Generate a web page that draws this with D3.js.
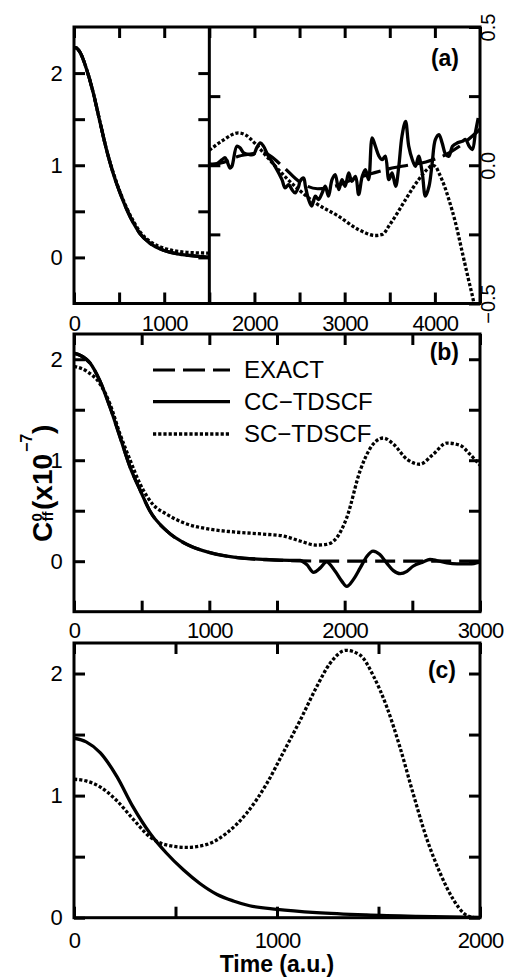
<!DOCTYPE html>
<html><head><meta charset="utf-8">
<script src="https://cdn.jsdelivr.net/npm/d3@7"></script>
<style>
body{margin:0;background:#fff}
text{font-family:"Liberation Sans",Arial,Helvetica,sans-serif;fill:#000}
</style>
</head><body>
<svg id="chart" width="505" height="977"></svg>
<script>
// ---------- DATA ----------
// Panel (a), left sub-panel (t = 0..1500, left scale)
const aLT  = [0, 30, 70, 140, 215, 290, 360, 435, 510, 585, 660, 730, 840, 1000, 1200, 1350, 1500];
const aLEX = [2.28, 2.27, 2.22, 2.04, 1.78, 1.46, 1.17, 0.91, 0.70, 0.52, 0.37, 0.26, 0.155, 0.075, 0.03, 0.015, 0.0];
const aLCC = [2.28, 2.27, 2.22, 2.04, 1.78, 1.46, 1.17, 0.91, 0.70, 0.52, 0.37, 0.26, 0.155, 0.075, 0.03, 0.015, 0.005];
const aLSC = [2.28, 2.27, 2.22, 2.04, 1.78, 1.46, 1.17, 0.92, 0.71, 0.535, 0.39, 0.28, 0.175, 0.10, 0.06, 0.05, 0.047];
// Panel (a), right sub-panel (t = 1500..4500, right scale)
const aREXT = [1500, 1700, 1800, 1950, 2100, 2300, 2500, 2700, 2900, 3100, 3300, 3500, 3700, 3900, 4100, 4300, 4500];
const aREX  = [0.0, 0.015, 0.03, 0.04, 0.045, 0.0, -0.06, -0.085, -0.075, -0.05, -0.03, -0.012, 0.0, 0.012, 0.035, 0.075, 0.13];
const aRCCT = [1500, 1580, 1640, 1675, 1730, 1750, 1805, 1840, 1880, 1935, 1990, 2025, 2065, 2100, 2155, 2230, 2305, 2340, 2380, 2415, 2450, 2490, 2505, 2545, 2565, 2600, 2635, 2675, 2710, 2750, 2785, 2820, 2860, 2895, 2935, 2970, 3005, 3045, 3080, 3120, 3155, 3195, 3230, 3265, 3305, 3340, 3380, 3415, 3450, 3490, 3525, 3565, 3600, 3635, 3675, 3710, 3750, 3785, 3820, 3860, 3895, 3935, 3970, 4005, 4045, 4080, 4120, 4155, 4195, 4250, 4305, 4340, 4380, 4415, 4450, 4480];
const aRCC  = [0.005, 0.005, 0.02, 0.027, -0.01, -0.004, 0.069, 0.063, 0.045, 0.039, 0.039, 0.063, 0.081, 0.069, 0.033, -0.005, -0.052, -0.082, -0.07, -0.088, -0.1, -0.076, -0.058, -0.046, -0.076, -0.124, -0.148, -0.112, -0.124, -0.1, -0.076, -0.112, -0.052, -0.034, -0.088, -0.052, -0.076, -0.028, -0.058, -0.04, -0.106, -0.04, -0.016, -0.052, 0.099, 0.069, 0.033, 0.02, 0.033, -0.052, -0.028, -0.076, -0.004, 0.105, 0.159, 0.069, 0.02, -0.004, 0.033, -0.028, -0.112, -0.076, 0.008, 0.093, 0.111, 0.081, 0.039, 0.033, 0.069, 0.081, 0.087, 0.093, 0.069, 0.057, 0.12, 0.171];
const aRSCT = [1500, 1650, 1820, 1900, 2000, 2100, 2200, 2350, 2490, 2675, 2930, 3155, 3340, 3420, 3490, 3580, 3675, 3820, 3930, 3970, 4010, 4045, 4100, 4155, 4230, 4305, 4370, 4433, 4460];
const aRSC  = [0.054, 0.09, 0.117, 0.11, 0.081, 0.045, 0.008, -0.045, -0.088, -0.136, -0.184, -0.233, -0.254, -0.25, -0.22, -0.175, -0.124, -0.052, -0.01, 0.0, -0.005, -0.028, -0.07, -0.124, -0.21, -0.317, -0.41, -0.5, -0.55];

// Panel (b)
const bEXT = [0, 45, 120, 190, 265, 340, 415, 490, 560, 685, 835, 1010, 1180, 1420, 1600, 2000, 2500, 3000];
const bEX  = [2.06, 2.04, 1.96, 1.79, 1.53, 1.23, 0.93, 0.70, 0.50, 0.30, 0.166, 0.083, 0.04, 0.015, 0.006, 0.0, 0.0, 0.0];
const bCCT = [0, 45, 120, 190, 265, 340, 415, 490, 560, 685, 835, 1010, 1180, 1420, 1520, 1670, 1720, 1770, 1820, 1865, 1930, 1980, 2015, 2065, 2115, 2165, 2210, 2260, 2310, 2360, 2410, 2460, 2505, 2580, 2630, 2680, 2755, 2830, 2925, 3000];
const bCC  = [2.06, 2.04, 1.96, 1.79, 1.53, 1.23, 0.93, 0.70, 0.50, 0.30, 0.166, 0.083, 0.04, 0.017, 0.01, 0.007, -0.033, -0.11, -0.066, -0.007, -0.1, -0.2, -0.25, -0.18, -0.066, 0.05, 0.1, 0.066, -0.017, -0.093, -0.123, -0.1, -0.05, -0.007, 0.017, 0.007, -0.017, -0.027, -0.027, -0.007];
const bSCT = [0, 95, 190, 265, 340, 415, 490, 585, 685, 810, 1010, 1180, 1420, 1545, 1670, 1790, 1865, 1940, 2015, 2115, 2185, 2285, 2360, 2460, 2555, 2655, 2755, 2850, 2925, 3000];
const bSC  = [1.93, 1.88, 1.76, 1.56, 1.26, 1.0, 0.76, 0.56, 0.465, 0.38, 0.316, 0.29, 0.266, 0.25, 0.2, 0.16, 0.166, 0.23, 0.43, 0.9, 1.11, 1.22, 1.16, 1.01, 0.96, 1.06, 1.17, 1.15, 1.06, 0.95];

// Panel (c)
const cCCT = [0, 60, 130, 210, 290, 375, 455, 540, 620, 705, 785, 865, 1000, 1195, 1440, 1690, 2000];
const cCC  = [1.47, 1.44, 1.35, 1.16, 0.91, 0.69, 0.53, 0.39, 0.28, 0.19, 0.137, 0.098, 0.068, 0.041, 0.022, 0.011, 0.003];
const cSCT = [0, 60, 130, 210, 290, 375, 455, 555, 655, 750, 850, 950, 1030, 1115, 1195, 1260, 1340, 1410, 1475, 1540, 1605, 1670, 1735, 1805, 1870, 1920, 1965, 2000];
const cSC  = [1.134, 1.12, 1.07, 0.96, 0.81, 0.66, 0.596, 0.576, 0.60, 0.69, 0.855, 1.10, 1.35, 1.62, 1.89, 2.08, 2.19, 2.15, 1.98, 1.73, 1.40, 1.02, 0.66, 0.36, 0.145, 0.036, 0.003, 0.0];

const legendLabels = ["EXACT", "CC\u2212TDSCF", "SC\u2212TDSCF"];
const panelLabels = ["(a)", "(b)", "(c)"];
const xTicksA = [0, 500, 1000, 1500, 2000, 2500, 3000, 3500, 4000, 4500];
const xTicksB = [0, 500, 1000, 1500, 2000, 2500, 3000];
const xTicksC = [0, 500, 1000, 1500, 2000];
const yTicks = [0, 0.5, 1, 1.5, 2];
const yTicksAR = [-0.5, -0.25, 0, 0.25, 0.5];

// ---------- DRAW ----------
const svg = d3.select("#chart");
svg.append("rect").attr("width", 505).attr("height", 977).attr("fill", "#fff");
const X0 = 74, X1 = 480, FS = 22;
const styles = {
  ex: {w: 3.2, dash: "20,8"},
  cc: {w: 3.3, dash: null},
  sc: {w: 3.3, dash: "3.2,2"}
};

function clip(id, x0, y0, x1, y1) {
  svg.append("clipPath").attr("id", id).append("rect")
    .attr("x", x0).attr("y", y0).attr("width", x1 - x0).attr("height", y1 - y0);
}
function series(g, x, y, T, V, st, curve, clipId) {
  const ln = d3.line().x(d => x(d[0])).y(d => y(d[1])).curve(curve || d3.curveMonotoneX);
  g.append("path").datum(d3.zip(T, V)).attr("d", ln)
    .attr("fill", "none").attr("stroke", "#000").attr("stroke-width", st.w)
    .attr("stroke-dasharray", st.dash).attr("stroke-linejoin", "round")
    .attr("clip-path", clipId ? "url(#" + clipId + ")" : null);
}
function axis(g, ax, tx, ty) {
  const a = g.append("g").attr("transform", `translate(${tx},${ty})`).call(ax);
  a.select(".domain").remove();
  a.selectAll(".tick line").attr("stroke", "#000").attr("stroke-width", 3);
  a.selectAll(".tick text").attr("font-size", FS).attr("letter-spacing", "-0.8px");
  return a;
}
function frame(g, x0, y0, x1, y1) {
  g.append("rect").attr("x", x0).attr("y", y0).attr("width", x1 - x0).attr("height", y1 - y0)
    .attr("fill", "none").attr("stroke", "#000").attr("stroke-width", 3);
}
function plabel(g, txt, x, y) {
  g.append("text").attr("x", x).attr("y", y).attr("text-anchor", "end")
    .attr("font-size", 23).attr("font-weight", "bold").text(txt);
}
const intFmt = d => (Number.isInteger(d) ? d : "");
const kFmt = d => (d % 1000 === 0 ? d : "");

// ----- Panel (a) -----
{
  const top = 27, bot = 303.5;
  const x = d3.scaleLinear([0, 4500], [X0, X1]);
  const yL = d3.scaleLinear([-0.5, 2.5], [bot, top]);
  const yR = d3.scaleLinear([-0.5, 0.5], [bot, top]);
  const xd = x(1500);
  const g = svg.append("g");
  clip("clipAL", X0, top, xd, bot);
  clip("clipAR", xd, top, X1, bot);
  series(g, x, yL, aLT, aLEX, styles.ex, null, "clipAL");
  series(g, x, yL, aLT, aLSC, styles.sc, null, "clipAL");
  series(g, x, yL, aLT, aLCC, styles.cc, null, "clipAL");
  series(g, x, yR, aREXT, aREX, styles.ex, null, "clipAR");
  series(g, x, yR, aRSCT, aRSC, styles.sc, null, "clipAR");
  series(g, x, yR, aRCCT, aRCC, styles.cc, d3.curveCatmullRom.alpha(0.5), "clipAR");
  axis(g, d3.axisBottom(x).tickValues(xTicksA).tickSize(-11).tickPadding(11.5)
    .tickFormat(d => (d % 1000 === 0 && d < 4500 ? d : "")), 0, bot);
  axis(g, d3.axisTop(x).tickValues(xTicksA).tickSize(-11).tickFormat(""), 0, top);
  axis(g, d3.axisLeft(yL).tickValues(yTicks).tickSize(-11).tickPadding(12).tickFormat(intFmt), X0, 0);
  axis(g, d3.axisLeft(yL).tickValues(yTicks).tickSize(11).tickFormat(""), xd, 0);
  axis(g, d3.axisRight(yR).tickValues([-0.25, 0, 0.25]).tickSize(11).tickFormat(""), xd, 0);
  const ra = axis(g, d3.axisRight(yR).tickValues(yTicksAR).tickSize(-11)
    .tickFormat(d => (Math.abs(d) === 0.25 ? "" : d3.format(".1f")(d))), X1, 0);
  ra.selectAll(".tick text").attr("x", 0).attr("y", 15).attr("dy", null)
    .attr("text-anchor", "middle").attr("transform", "rotate(-90)")
    .attr("font-size", 20).attr("letter-spacing", null);
  frame(g, X0, top, X1, bot);
  g.append("line").attr("x1", xd).attr("x2", xd).attr("y1", top).attr("y2", bot)
    .attr("stroke", "#000").attr("stroke-width", 3);
  plabel(g, panelLabels[0], 459, 66);
}

// ----- Panel (b) -----
{
  const top = 334, bot = 611.7;
  const x = d3.scaleLinear([0, 3000], [X0, X1]);
  const y = d3.scaleLinear([-0.5, 2.25], [bot, top]);
  const g = svg.append("g");
  clip("clipB", X0, top, X1, bot);
  series(g, x, y, bEXT, bEX, styles.ex, null, "clipB");
  series(g, x, y, bSCT, bSC, styles.sc, null, "clipB");
  series(g, x, y, bCCT, bCC, styles.cc, null, "clipB");
  axis(g, d3.axisBottom(x).tickValues(xTicksB).tickSize(-11).tickPadding(11).tickFormat(kFmt), 0, bot);
  axis(g, d3.axisTop(x).tickValues(xTicksB).tickSize(-11).tickFormat(""), 0, top);
  axis(g, d3.axisLeft(y).tickValues(yTicks).tickSize(-11).tickPadding(12).tickFormat(intFmt), X0, 0);
  axis(g, d3.axisRight(y).tickValues(yTicks).tickSize(-11).tickFormat(""), X1, 0);
  frame(g, X0, top, X1, bot);
  plabel(g, panelLabels[1], 459, 360);
  // legend
  const ly = [370, 401.7, 434];
  const lst = [styles.ex, styles.cc, styles.sc];
  legendLabels.forEach((lab, i) => {
    g.append("line").attr("x1", 153).attr("x2", 230).attr("y1", ly[i]).attr("y2", ly[i])
      .attr("stroke", "#000").attr("stroke-width", lst[i].w)
      .attr("stroke-dasharray", i === 0 ? "22,8" : lst[i].dash);
    g.append("text").attr("x", 244).attr("y", ly[i]).attr("dy", "0.35em")
      .attr("font-size", 24).text(lab);
  });
  // y label
  const yl = g.append("g").attr("transform", "translate(52,542) rotate(-90)");
  const yt = yl.append("text").attr("font-weight", "bold").attr("font-size", 28);
  yt.append("tspan").text("C");
  yl.append("text").attr("x", 20.5).attr("y", -10).attr("font-weight", "bold").attr("font-size", 15).text("0");
  yl.append("text").attr("x", 20.5).attr("y", 1).attr("font-weight", "bold").attr("font-size", 15).text("ff");
  yl.append("text").attr("x", 32).attr("y", 0).attr("font-weight", "bold").attr("font-size", 28).text("(x10");
  yl.append("text").attr("x", 90).attr("y", -20).attr("font-weight", "bold").attr("font-size", 16).text("\u22127");
  yl.append("text").attr("x", 108).attr("y", 0).attr("font-weight", "bold").attr("font-size", 28).text(")");
}

// ----- Panel (c) -----
{
  const top = 643, bot = 917.7;
  const x = d3.scaleLinear([0, 2000], [X0, X1]);
  const y = d3.scaleLinear([0, 2.25], [bot, top]);
  const g = svg.append("g");
  clip("clipC", X0, top, X1, bot);
  series(g, x, y, cSCT, cSC, styles.sc, null, "clipC");
  series(g, x, y, cCCT, cCC, styles.cc, null, "clipC");
  axis(g, d3.axisBottom(x).tickValues(xTicksC).tickSize(-11).tickPadding(14.5).tickFormat(kFmt), 0, bot);
  axis(g, d3.axisTop(x).tickValues(xTicksC).tickSize(-11).tickFormat(""), 0, top);
  axis(g, d3.axisLeft(y).tickValues(yTicks).tickSize(-11).tickPadding(12).tickFormat(intFmt), X0, 0);
  axis(g, d3.axisRight(y).tickValues(yTicks).tickSize(-11).tickFormat(""), X1, 0);
  frame(g, X0, top, X1, bot);
  plabel(g, panelLabels[2], 456, 678);
  g.append("text").attr("x", 277).attr("y", 972).attr("text-anchor", "middle")
    .attr("font-size", 23).attr("font-weight", "bold").text("Time (a.u.)");
}
</script>
</body></html>
